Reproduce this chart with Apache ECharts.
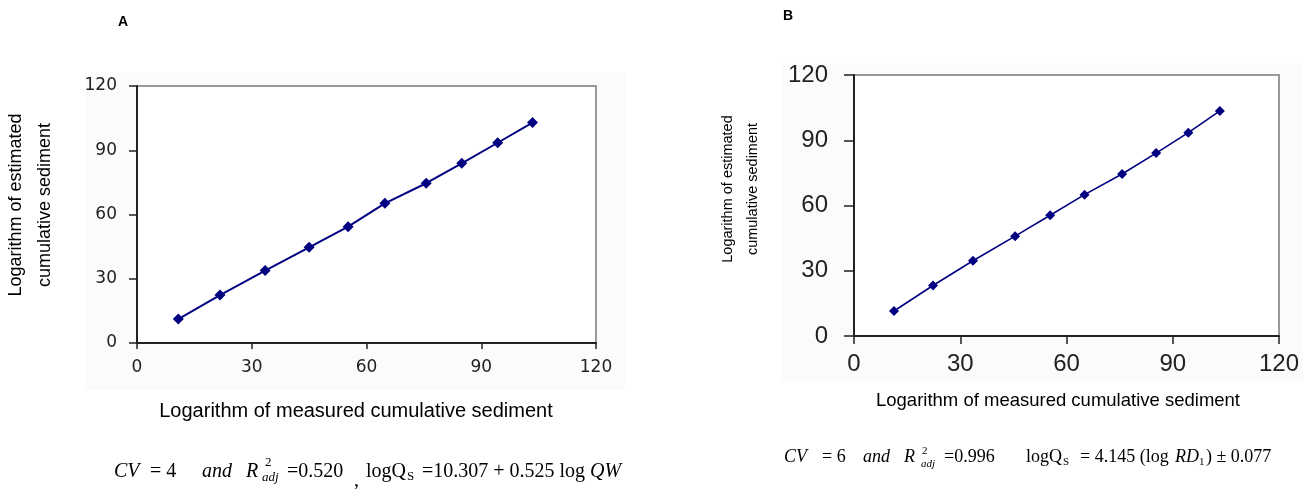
<!DOCTYPE html>
<html>
<head>
<meta charset="utf-8">
<script src="https://cdn.jsdelivr.net/npm/echarts@6/dist/echarts.min.js"></script>
<style>
html,body{margin:0;padding:0;background:#fff;}
#chart{width:1315px;height:489px;}
</style>
</head>
<body>
<div id="chart"></div>
<script>
// Panel A data (measured vs estimated)
const measuredA = [10.8, 21.7, 33.5, 45.0, 55.2, 64.8, 75.6, 84.9, 94.3, 103.4];
const estimatedA = [11.2, 22.4, 33.8, 44.7, 54.3, 65.2, 74.6, 83.9, 93.5, 102.9];
// Panel B data
const measuredB = [11.3, 22.3, 33.6, 45.5, 55.4, 65.1, 75.7, 85.3, 94.4, 103.3];
const estimatedB = [11.5, 23.2, 34.6, 45.9, 55.5, 65.0, 74.5, 84.1, 93.5, 103.5];
// Axis settings
const axisMin = 0, axisMax = 120, axisStep = 30;
// Texts
const panelLabels = ['A', 'B'];
const xTitle = 'Logarithm of measured cumulative sediment';
const yTitle = 'Logarithm of estimated\ncumulative sediment';

const chart = echarts.init(document.getElementById('chart'), null, {renderer: 'canvas'});

function axisCommon(labelFont, labelSize, margin, tickLen) {
  return {
    type: 'value', min: axisMin, max: axisMax, interval: axisStep,
    axisLine: {show: true, lineStyle: {color: '#222', width: 2}},
    axisTick: {show: true, length: tickLen, lineStyle: {color: '#222', width: 1.5}},
    splitLine: {show: false},
    axisLabel: {fontFamily: labelFont, fontSize: labelSize, color: '#222', margin: margin}
  };
}

function pair(xs, ys) { return xs.map((x, i) => [x, ys[i]]); }

function txt(x, y, text, size, opts) {
  opts = opts || {};
  return {
    type: 'text', x: x, y: y, rotation: opts.rotation || 0,
    style: {
      text: text, fontSize: size, fontFamily: opts.family || 'Liberation Serif',
      fontStyle: opts.italic ? 'italic' : 'normal', fontWeight: opts.bold ? 'bold' : 'normal',
      lineHeight: opts.lineHeight, fill: '#000',
      align: opts.align || 'left', verticalAlign: 'middle'
    }
  };
}
const I = {italic: true};
const fA = 20, sA = 13, yA = 472;
const fB = 18, sB = 11, yB = 457;
const sans = 'Liberation Sans';

const graphics = [
  {type: 'rect', z: -10, shape: {x: 85, y: 72, width: 540, height: 318}, style: {fill: '#fbfbfb'}},
  {type: 'rect', z: -10, shape: {x: 782, y: 63, width: 521, height: 318}, style: {fill: '#fbfbfb'}},
  txt(123, 22, panelLabels[0], 14, {family: sans, bold: true, align: 'center'}),
  txt(788, 16, panelLabels[1], 14, {family: sans, bold: true, align: 'center'}),
  txt(356, 411, xTitle, 20, {family: sans, align: 'center'}),
  txt(1058, 401, xTitle, 18.5, {family: sans, align: 'center'}),
  txt(31, 205, yTitle, 18, {family: sans, align: 'center', rotation: Math.PI / 2, lineHeight: 29}),
  txt(740, 189, yTitle, 14.5, {family: sans, align: 'center', rotation: Math.PI / 2, lineHeight: 25}),
  // Formula A
  txt(114, yA, 'CV', fA, I),
  txt(150, yA, '= 4', fA),
  txt(202, yA, 'and', fA, I),
  txt(246, yA, 'R', fA, I),
  txt(265, yA - 9, '2', sA),
  txt(262, yA + 6, 'adj', sA, I),
  txt(287, yA, '=0.520', fA),
  txt(354, yA + 9, ',', fA),
  txt(366, yA, 'logQ', fA),
  txt(407, yA + 5, 'S', sA),
  txt(422, yA, '=10.307 + 0.525 log', fA),
  txt(590, yA, 'QW', fA, I),
  // Formula B
  txt(784, yB, 'CV', fB, I),
  txt(822, yB, '= 6', fB),
  txt(863, yB, 'and', fB, I),
  txt(904, yB, 'R', fB, I),
  txt(922, yB - 6, '2', sB),
  txt(921, yB + 7, 'adj', sB, I),
  txt(944, yB, '=0.996', fB),
  txt(1026, yB, 'logQ', fB),
  txt(1063, yB + 5, 'S', sB),
  txt(1080, yB, '= 4.145 (log', fB),
  txt(1175, yB, 'RD', fB, I),
  txt(1199, yB + 5, '1', sB),
  txt(1206, yB, ') \u00b1 0.077', fB)
];

const option = {
  backgroundColor: '#fff',
  animation: false,
  grid: [
    {left: 137, right: 719, top: 86, bottom: 146, show: true, backgroundColor: '#fff', borderColor: '#999', borderWidth: 2, containLabel: false, outerBoundsMode: 'none'},
    {left: 854, right: 36, top: 75, bottom: 153, show: true, backgroundColor: '#fff', borderColor: '#999', borderWidth: 2, containLabel: false, outerBoundsMode: 'none'}
  ],
  xAxis: [
    Object.assign(axisCommon('DejaVu Sans', 17, 16, 6), {gridIndex: 0}),
    Object.assign(axisCommon('Liberation Sans', 24, 16, 8), {gridIndex: 1})
  ],
  yAxis: [
    Object.assign(axisCommon('DejaVu Sans', 17, 20, 8), {gridIndex: 0}),
    Object.assign(axisCommon('Liberation Sans', 24, 26, 10), {gridIndex: 1})
  ],
  series: [
    {type: 'line', xAxisIndex: 0, yAxisIndex: 0, data: pair(measuredA, estimatedA), symbol: 'diamond', symbolSize: 11,
     itemStyle: {color: '#000080'}, lineStyle: {color: '#000080', width: 2}},
    {type: 'line', xAxisIndex: 1, yAxisIndex: 1, data: pair(measuredB, estimatedB), symbol: 'diamond', symbolSize: 10,
     itemStyle: {color: '#000080'}, lineStyle: {color: '#000080', width: 1.6}}
  ],
  graphic: graphics
};
chart.setOption(option);
</script>
</body>
</html>
